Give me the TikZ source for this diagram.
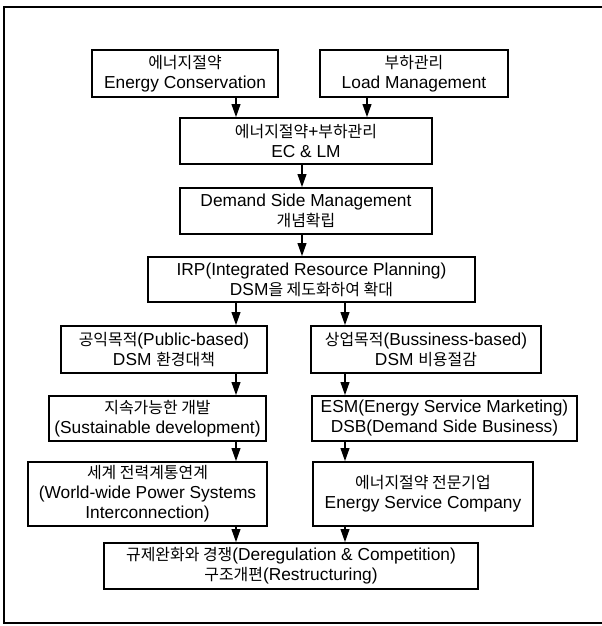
\documentclass[tikz,border=0pt]{standalone}
\usepackage{fontspec}
\setmainfont{Liberation Sans}
\newfontfamily\kr{Noto Sans CJK KR}[Scale=0.92]
\usetikzlibrary{arrows.meta}
\begin{document}
\begin{tikzpicture}[x=0.75pt,y=-0.75pt,
  box/.style={draw, line width=1.2pt, inner sep=0pt, align=center,
    font=\fontsize{13}{15}\selectfont},
  arr/.style={line width=1.2pt, -{Triangle[length=9.75pt,width=6.5pt]}},
  frame/.style={draw, line width=1.1pt}]
\useasboundingbox (0,0) rectangle (602,626);
\draw[frame] (603,7) -- (4,7) -- (4,623) -- (603,623);
% boxes
\node[box, minimum width=139.5pt, minimum height=35.25pt] (n1) at (185,73.5)
  {{\kr 에너지절약}\\Energy Conservation};
\node[box, minimum width=141pt, minimum height=35.25pt] (n2) at (414,73.5)
  {{\kr 부하관리}\\Load Management};
\node[box, minimum width=189pt, minimum height=34.5pt] (ec) at (306,141)
  {{\kr 에너지절약}+{\kr 부하관리}\\EC \& LM};
\node[box, minimum width=189pt, minimum height=34.5pt] (dsm) at (306,211)
  {Demand Side Management\\{\kr 개념확립}};
\node[box, minimum width=245.25pt, minimum height=33.75pt] (irp) at (311.5,279.5)
  {IRP(Integrated Resource Planning)\\DSM{\kr 을 제도화하여 확대}};
\node[box, minimum width=154.5pt, minimum height=35.25pt] (pub) at (164,349.5)
  {{\kr 공익목적}(Public-based)\\DSM {\kr 환경대책}};
\node[box, minimum width=172.5pt, minimum height=35.25pt] (bus) at (426,349.5)
  {{\kr 상업목적}(Bussiness-based)\\DSM {\kr 비용절감}};
\node[box, minimum width=162.75pt, minimum height=33.75pt] (sus) at (157.5,418.5)
  {{\kr 지속가능한 개발}\\(Sustainable development)};
\node[box, minimum width=198.75pt, minimum height=33.75pt] (esm) at (444.5,418.5)
  {ESM(Energy Service Marketing)\\DSB(Demand Side Business)};
\node[box, minimum width=179.25pt, minimum height=48pt] (world) at (147.5,494)
  {{\kr 세계 전력계통연계}\\(World-wide Power Systems\\Interconnection)};
\node[box, minimum width=165pt, minimum height=48pt] (esco) at (423,494)
  {{\kr 에너지절약 전문기업}\\Energy Service Company};
\node[box, minimum width=280.5pt, minimum height=34.5pt] (dereg) at (291,566)
  {{\kr 규제완화와 경쟁}(Deregulation \& Competition)\\{\kr 구조개편}(Restructuring)};
% arrow columns
\coordinate (L) at (236,0);
\coordinate (R) at (345,0);
\coordinate (C) at (302,0);
\coordinate (R2) at (367,0);
\draw[arr] (n1.south -| L) -- (ec.north -| L);
\draw[arr] (n2.south -| R2) -- (ec.north -| R2);
\draw[arr] (ec.south -| C) -- (dsm.north -| C);
\draw[arr] (dsm.south -| C) -- (irp.north -| C);
\draw[arr] (irp.south -| L) -- (pub.north -| L);
\draw[arr] (irp.south -| R) -- (bus.north -| R);
\draw[arr] (pub.south -| L) -- (sus.north -| L);
\draw[arr] (bus.south -| R) -- (esm.north -| R);
\draw[arr] (sus.south -| L) -- (world.north -| L);
\draw[arr] (esm.south -| R) -- (esco.north -| R);
\draw[arr] (world.south -| L) -- (dereg.north -| L);
\draw[arr] (esco.south -| R) -- (dereg.north -| R);
\end{tikzpicture}
\end{document}
